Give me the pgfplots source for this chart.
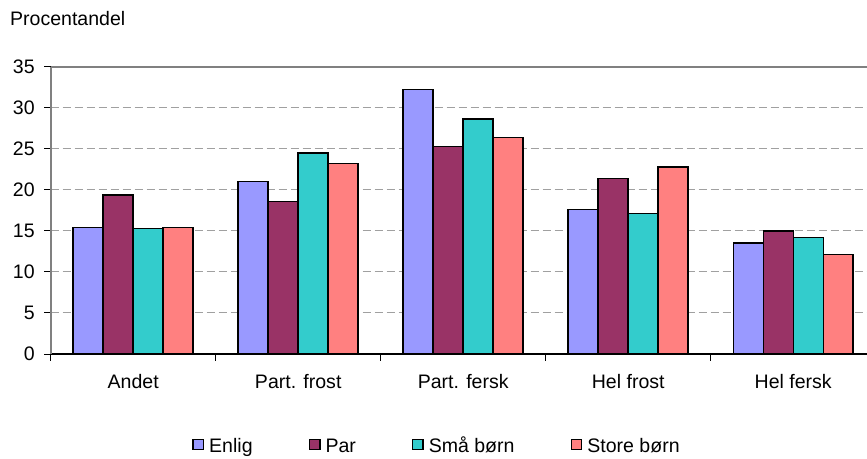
\documentclass[border=0pt]{standalone}
\usepackage{pgfplots}
\pgfplotsset{compat=1.18}
\usepackage{fontspec}
\setmainfont{Liberation Sans}
\definecolor{cEnlig}{HTML}{9999FF}
\definecolor{cPar}{HTML}{993366}
\definecolor{cSma}{HTML}{33CCCC}
\definecolor{cStore}{HTML}{FF8080}
\definecolor{cGrid}{HTML}{A0A0A0}
\definecolor{cAxis}{HTML}{808080}
\begin{document}
\begin{tikzpicture}[font=\fontsize{19.6}{23.5}\selectfont]
\begin{axis}[
  name=ax,
  scale only axis, width=816.3bp, height=287.3bp,
  xmin=-0.5, xmax=4.447, ymin=0, ymax=35,
  ybar=0pt, bar width=0.1818,
  axis x line*=bottom, axis y line*=left,
  axis line style={-},
  x axis line style={black, line width=1.2bp},
  y axis line style={cAxis, line width=1.6bp},
  xtick={-0.5,0.5,1.5,2.5,3.5}, xticklabels={},
  extra x ticks={0,1,2,3,4},
  extra x tick labels={Andet,Part. frost,Part. fersk,Hel frost,Hel fersk},
  extra x tick style={major tick length=0pt, tick label style={yshift=-17bp}},
  ytick={0,5,...,30},
  yticklabel style={xshift=-6bp},
  extra y ticks={35},
  extra y tick style={grid=major, major grid style={solid, cAxis, line width=2bp}},
  xtick pos=bottom, ytick pos=left,
  tick align=outside, major tick length=6.5bp,
  tick style={black, line width=1bp},
  ymajorgrids,
  major grid style={cGrid, line width=1bp, dash pattern=on 8bp off 4bp},
  /pgf/number format/assume math mode=true,
  legend columns=4,
  legend style={at={(0.4732,-0.315)}, anchor=center, draw=none, fill=none,
    /tikz/every odd column/.append style={column sep=3bp},
    /tikz/every even column/.append style={column sep=54bp}},
  legend image code/.code={\draw[#1,draw=black,line width=1.3bp] (0bp,-5.3bp) rectangle (10.6bp,5.3bp);},
]
\addplot[fill=cEnlig, draw=black, line width=1.5bp] coordinates {(0,15.4) (1,21.0) (2,32.2) (3,17.6) (4,13.5)};
\addplot[fill=cPar, draw=black, line width=1.5bp] coordinates {(0,19.4) (1,18.6) (2,25.3) (3,21.4) (4,15.0)};
\addplot[fill=cSma, draw=black, line width=1.5bp] coordinates {(0,15.3) (1,24.5) (2,28.6) (3,17.1) (4,14.2)};
\addplot[fill=cStore, draw=black, line width=1.5bp] coordinates {(0,15.4) (1,23.2) (2,26.4) (3,22.8) (4,12.1)};
\legend{Enlig\vphantom{Åg},Par\vphantom{Åg},Små børn\vphantom{Åg},Store børn\vphantom{Åg}}
\end{axis}
\node[anchor=base west, inner sep=0pt] at ([shift={(-40.7bp,40.7bp)}]ax.north west) {Procentandel};
\pgfresetboundingbox
\path ([shift={(-50.7bp,-105bp)}]ax.south west) rectangle ([shift={(0bp,66.7bp)}]ax.north east);
\end{tikzpicture}
\end{document}
